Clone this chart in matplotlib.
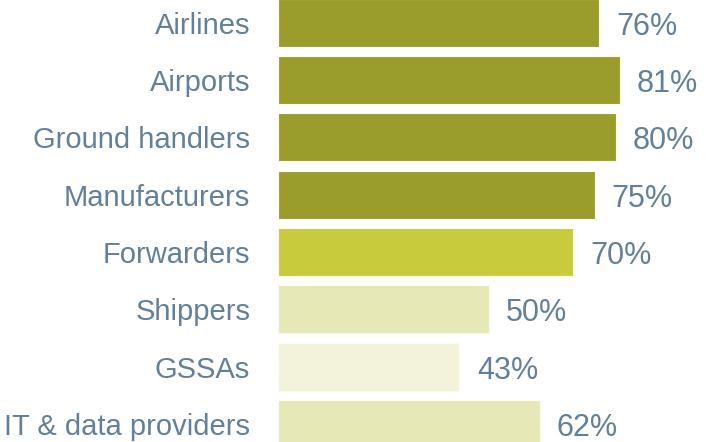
import matplotlib
matplotlib.use('agg')
import matplotlib.pyplot as plt

categories = ["Airlines", "Airports", "Ground handlers", "Manufacturers",
              "Forwarders", "Shippers", "GSSAs", "IT & data providers"]
shares = [76, 81, 80, 75, 70, 50, 43, 62]
bar_colors = ["#9a9d2b", "#9a9d2b", "#9a9d2b", "#9a9d2b",
              "#c8cb3c", "#e6e9b5", "#f3f3dc", "#e6e9b5"]

text_color = "#62809a"
plt.rcParams['font.family'] = ['Liberation Sans', 'DejaVu Sans']


def main():
    fig = plt.figure(figsize=(7.06, 4.42), dpi=100)
    # bars start 278 px in; 4.22 px per percentage point
    ax = fig.add_axes([278 / 706, 0, 1 - 278 / 706, 1])
    pos = list(range(len(categories)))
    ax.barh(pos, shares, height=0.84, color=bar_colors,
            edgecolor="#fbfbee", linewidth=0.8)
    ax.set_xlim(0, (706 - 278) / 4.22)
    ax.set_ylim(7.316, -0.398)

    ax.set_yticks(pos)
    ax.set_yticklabels(categories, fontsize=21, color=text_color)
    ax.tick_params(axis='y', length=0, pad=20)
    ax.set_xticks([])
    for s in ax.spines.values():
        s.set_visible(False)

    # value labels sit just right of each bar, baseline a bit below the bar centre
    for p, v in zip(pos, shares):
        ax.text(v + 4.1, p + 0.21, "%d%%" % v, fontsize=22,
                color=text_color, va='baseline', ha='left')

    fig.savefig("out.png", dpi=100)


if "__main__" == __name__:
    main()
